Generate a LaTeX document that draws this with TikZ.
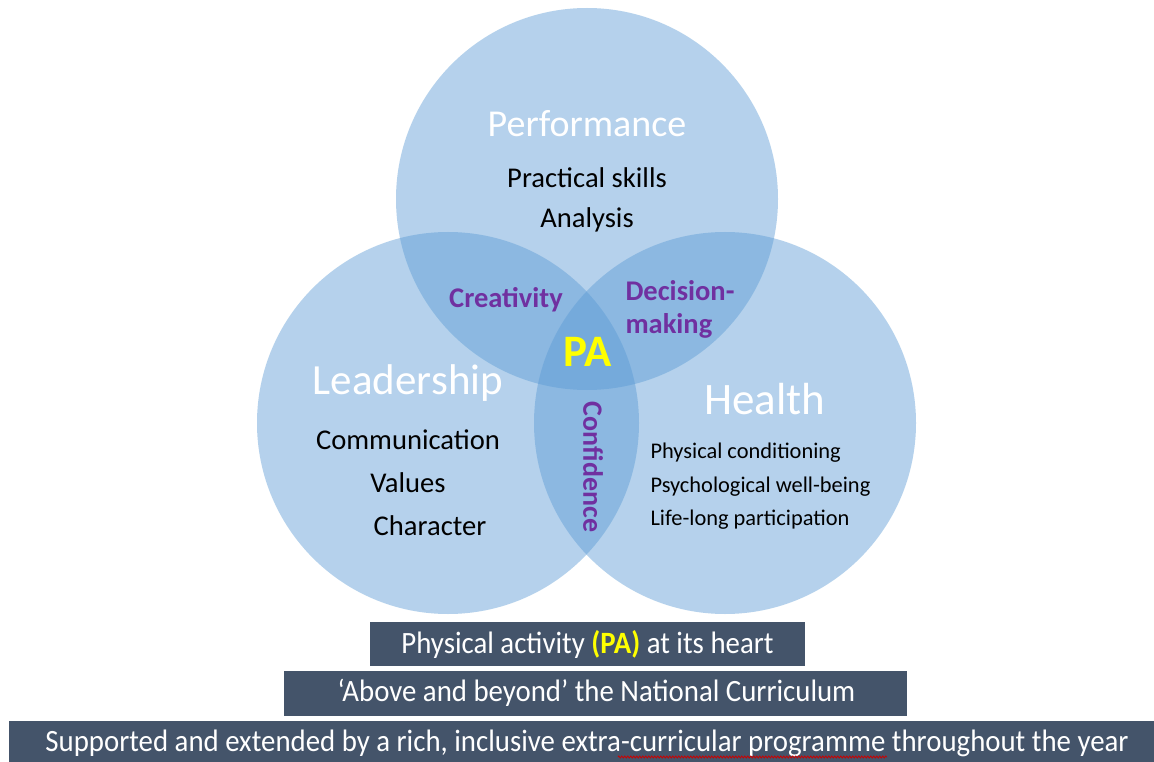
\documentclass[tikz,border=0pt]{standalone}
\usepackage{fontspec}
\setmainfont{Carlito}
\newfontfamily\condfont{Carlito}[FakeStretch=0.93]
\usetikzlibrary{decorations.pathmorphing}
\definecolor{circblue}{RGB}{91,155,213}
\definecolor{purp}{RGB}{112,48,160}
\definecolor{pay}{RGB}{255,255,0}
\definecolor{slate}{RGB}{68,84,106}
\tikzset{
  venn/.style={circle, fill=circblue, fill opacity=0.45, minimum size=382pt, inner sep=0pt},
  head/.style={text=white, font=\fontsize{38}{40}\selectfont},
  item/.style={text=black, font=\fontsize{28.6}{31}\selectfont},
  small/.style={text=black, font=\fontsize{22.4}{25}\selectfont, anchor=west},
  link/.style={text=purp, font=\bfseries\fontsize{28.5}{31}\selectfont},
  band/.style={fill=slate, inner sep=0pt, text=white, font=\condfont\fontsize{31}{34}\selectfont}
}
\begin{document}
\begin{tikzpicture}[x=1pt,y=-1pt]
\useasboundingbox (0,0) rectangle (1154,762);
\fill[white] (0,0) rectangle (1154,762);
% circles
\node[venn] (perf) at (587,199) {};
\node[venn] (lead) at (448,423) {};
\node[venn] (hlth) at (725,423) {};
% headings
\node[head] (tperf) at (587,124) {Performance};
\node[item] (ps) at (587,178) {Practical skills};
\node[item] (an) at (587,220) {Analysis};
\node[head, font=\fontsize{43}{45}\selectfont] (tlead) at (408,383) {Leadership};
\node[item] (com) at (408,440) {Communication};
\node[item] (val) at (408,483) {Values};
\node[item] (chr) at (430,526) {Character};
\node[head, font=\fontsize{45}{47}\selectfont] (thl) at (765,399) {Health};
\node[small] (pc) at (647,453) {Physical conditioning};
\node[small] (pw) at (647,487) {Psychological well-being};
\node[small] (ll) at (647,520) {Life-long participation};
% overlaps
\node[link] (cre) at (506,300) {Creativity};
\node[link, align=left, anchor=west, font=\bfseries\fontsize{28.5}{33}\selectfont] (dec) at (622,309) {Decision-\\making};
\node[text=pay, font=\bfseries\fontsize{45}{47}\selectfont] (pa) at (588,352) {PA};
\node[link, rotate=-90, font=\bfseries\fontsize{28}{30}\selectfont] (conf) at (593,467) {Confidence};
% bands
\path[band] (370,622) rectangle (805,666);
\node[band, fill=none] (b1) at (587.5,644) {Physical activity {\bfseries\color{pay}(PA)} at its heart};
\path[band] (284,671) rectangle (907,716);
\node[band, fill=none] (b2) at (596.5,693) {‘Above and beyond’ the National Curriculum};
\path[band] (9,721) rectangle (1154,762);
\node[band, fill=none] (b3) at (587,743) {Supported and extended by a rich, inclusive extra-curricular programme throughout the year};
\coordinate (sq1) at (618,757);
\coordinate (sq2) at (887,757);
\draw[red!80!black, line width=0.8pt, decorate, decoration={zigzag, amplitude=1pt, segment length=3pt}] (sq1) -- (sq2);
\end{tikzpicture}
\end{document}
